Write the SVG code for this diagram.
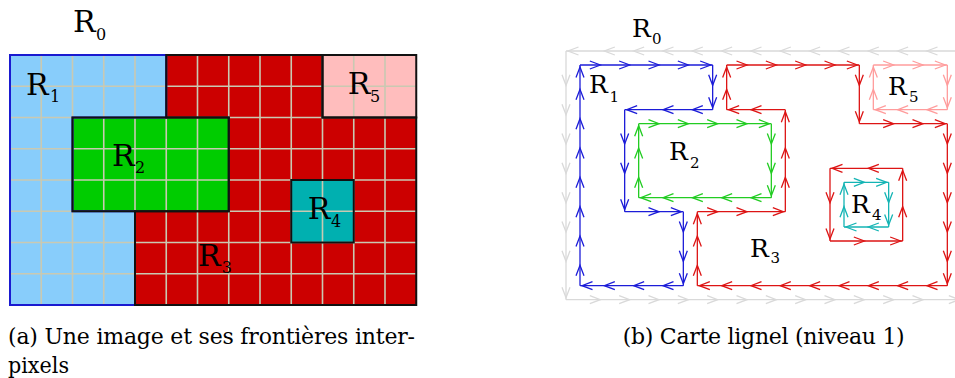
<svg xmlns="http://www.w3.org/2000/svg" width="955" height="378" viewBox="0 0 955 378">
<style>
text{font-family:"DejaVu Serif","Noto Serif","Liberation Serif",serif;fill:#000}
.lbl{font-size:30px}.sub{font-size:16px}
.lbr{font-size:25px}.sbr{font-size:15px}
.cap{font-size:22px}
.grid{stroke:#c9c9b2;stroke-width:1.6;fill:none}
.ol{fill:none;stroke:#111;stroke-width:2}
.d{fill:none;stroke-width:1.3}
.k{stroke:#d9d9d9;marker-mid:url(#mK);marker-end:url(#mK)}
.b{stroke:#1c1cd8;marker-mid:url(#mB);marker-end:url(#mB)}
.g{stroke:#22cc22;marker-mid:url(#mG);marker-end:url(#mG)}
.r{stroke:#dd1414;marker-mid:url(#mR);marker-end:url(#mR)}
.t{stroke:#14b4b4;marker-mid:url(#mT);marker-end:url(#mT)}
.p{stroke:#ff9c9c;marker-mid:url(#mP);marker-end:url(#mP)}
</style>
<defs>
<marker id="mK" markerUnits="userSpaceOnUse" viewBox="-12 -6 16 12" markerWidth="16" markerHeight="12" refX="2" refY="0" orient="auto" overflow="visible"><path d="M-10.5-4L0 0L-10.5 4" fill="none" stroke="#d9d9d9" stroke-width="1.3"/></marker>
<marker id="mB" markerUnits="userSpaceOnUse" viewBox="-12 -6 16 12" markerWidth="16" markerHeight="12" refX="2" refY="0" orient="auto" overflow="visible"><path d="M-10.5-4L0 0L-10.5 4" fill="none" stroke="#1c1cd8" stroke-width="1.3"/></marker>
<marker id="mG" markerUnits="userSpaceOnUse" viewBox="-12 -6 16 12" markerWidth="16" markerHeight="12" refX="2" refY="0" orient="auto" overflow="visible"><path d="M-10.5-4L0 0L-10.5 4" fill="none" stroke="#22cc22" stroke-width="1.3"/></marker>
<marker id="mR" markerUnits="userSpaceOnUse" viewBox="-12 -6 16 12" markerWidth="16" markerHeight="12" refX="2" refY="0" orient="auto" overflow="visible"><path d="M-10.5-4L0 0L-10.5 4" fill="none" stroke="#dd1414" stroke-width="1.3"/></marker>
<marker id="mT" markerUnits="userSpaceOnUse" viewBox="-12 -6 16 12" markerWidth="16" markerHeight="12" refX="2" refY="0" orient="auto" overflow="visible"><path d="M-10.5-4L0 0L-10.5 4" fill="none" stroke="#14b4b4" stroke-width="1.3"/></marker>
<marker id="mP" markerUnits="userSpaceOnUse" viewBox="-12 -6 16 12" markerWidth="16" markerHeight="12" refX="2" refY="0" orient="auto" overflow="visible"><path d="M-10.5-4L0 0L-10.5 4" fill="none" stroke="#ff9c9c" stroke-width="1.3"/></marker>
</defs>
<rect width="955" height="378" fill="#fff"/>

<!-- (a) image -->
<g id="image-a">
<g id="a-R3"><rect x="10" y="55" width="406.25" height="250" fill="#cc0000"/></g>
<g id="a-R1"><polygon points="10,55 166.25,55 166.25,117.5 72.5,117.5 72.5,211.25 135,211.25 135,305 10,305" fill="#88cdfb"/></g>
<g id="a-R2"><rect x="72.5" y="117.5" width="156.25" height="93.75" fill="#00cc00"/></g>
<g id="a-R4"><rect x="291.25" y="180" width="62.5" height="62.5" fill="#00b0b0"/></g>
<g id="a-R5"><rect x="322.5" y="55" width="93.75" height="62.5" fill="#ffbdbd"/></g>
<path class="grid" d="M41.25 55V305M72.5 55V305M103.75 55V305M135 55V305M166.25 55V305M197.5 55V305M228.75 55V305M260 55V305M291.25 55V305M322.5 55V305M353.75 55V305M385 55V305M10 86.25H416.25M10 117.5H416.25M10 148.75H416.25M10 180H416.25M10 211.25H416.25M10 242.5H416.25M10 273.75H416.25"/>
<polygon class="ol" style="stroke:#1a1ad0" points="10,55 166.25,55 166.25,117.5 72.5,117.5 72.5,211.25 135,211.25 135,305 10,305"/>
<polygon class="ol" points="166.25,55 322.5,55 322.5,117.5 416.25,117.5 416.25,305 135,305 135,211.25 228.75,211.25 228.75,117.5 166.25,117.5"/>
<rect class="ol" x="72.5" y="117.5" width="156.25" height="93.75"/>
<rect class="ol" x="291.25" y="180" width="62.5" height="62.5"/>
<rect class="ol" x="322.5" y="55" width="93.75" height="62.5"/>
<text class="lbl" x="73" y="32">R<tspan class="sub" x="96" y="39.5">0</tspan></text>
<text class="lbl" x="26" y="94.5">R<tspan class="sub" x="50" y="101.5">1</tspan></text>
<text class="lbl" x="112" y="166">R<tspan class="sub" x="135" y="172.7">2</tspan></text>
<text class="lbl" x="198" y="265.7">R<tspan class="sub" x="221.7" y="273.3">3</tspan></text>
<text class="lbl" x="307.7" y="219.3">R<tspan class="sub" x="331" y="226.7">4</tspan></text>
<text class="lbl" x="347.7" y="94.3">R<tspan class="sub" x="370" y="101.7">5</tspan></text>
</g>

<!-- (b) lignel map -->
<g id="connectors">
<g id="b-R0">
<path class="d k" d="M961.33 51H925H895.66H866.33H837H807.66H778.33H749H719.66H690.33H661H631.66H602.33H566"/>
<path class="d k" d="M566 51V87.33V116.66V146V175.33V204.66V234V263.33V299.66"/>
<path class="d k" d="M566 299.66H602.33H631.66H661H690.33H719.66H749H778.33H807.66H837H866.33H895.66H925H961.33"/>
</g>
<g id="b-R1">
<path class="d b" d="M580 65H602.33H631.66H661H690.33H712.66"/>
<path class="d b" d="M712.66 65V87.33V109.66"/>
<path class="d b" d="M712.66 109.66H690.33H661H624.66"/>
<path class="d b" d="M624.66 109.66V146V175.33V211.66"/>
<path class="d b" d="M624.66 211.66H661H683.33"/>
<path class="d b" d="M683.33 211.66V234V263.33V285.66"/>
<path class="d b" d="M683.33 285.66H661H631.66H602.33H580"/>
<path class="d b" d="M580 285.66V263.33V234V204.66V175.33V146V116.66V87.33V65"/>
</g>
<g id="b-R2">
<path class="d g" d="M638.66 123.66H661H690.33H719.66H749H771.33"/>
<path class="d g" d="M771.33 123.66V146V175.33V197.66"/>
<path class="d g" d="M771.33 197.66H749H719.66H690.33H661H638.66"/>
<path class="d g" d="M638.66 197.66V175.33V146V123.66"/>
</g>
<g id="b-R3">
<path class="d r" d="M726.66 65H749H778.33H807.66H837H859.33"/>
<path class="d r" d="M859.33 65V87.33V123.66"/>
<path class="d r" d="M859.33 123.66H895.66H925H947.33"/>
<path class="d r" d="M947.33 123.66V146V175.33V204.66V234V263.33V285.66"/>
<path class="d r" d="M947.33 285.66H925H895.66H866.33H837H807.66H778.33H749H719.66H697.33"/>
<path class="d r" d="M697.33 285.66V263.33V234V211.66"/>
<path class="d r" d="M697.33 211.66H719.66H749H785.33"/>
<path class="d r" d="M785.33 211.66V175.33V146V109.66"/>
<path class="d r" d="M785.33 109.66H749H726.66"/>
<path class="d r" d="M726.66 109.66V87.33V65"/>
<path class="d r" d="M902.66 168.33H866.33H830"/>
<path class="d r" d="M830 168.33V204.66V241"/>
<path class="d r" d="M830 241H866.33H902.66"/>
<path class="d r" d="M902.66 241V204.66V168.33"/>
</g>
<g id="b-R4">
<path class="d t" d="M844 182.33H866.33H888.66"/>
<path class="d t" d="M888.66 182.33V204.66V227"/>
<path class="d t" d="M888.66 227H866.33H844"/>
<path class="d t" d="M844 227V204.66V182.33"/>
</g>
<g id="b-R5">
<path class="d p" d="M873.33 65H895.66H925H947.33"/>
<path class="d p" d="M947.33 65V87.33V109.66"/>
<path class="d p" d="M947.33 109.66H925H895.66H873.33"/>
<path class="d p" d="M873.33 109.66V87.33V65"/>
</g>
</g>
<g id="labels-b">
<text class="lbr" x="632" y="36.7">R<tspan class="sbr" x="652" y="44">0</tspan></text>
<text class="lbr" x="589" y="93.3">R<tspan class="sbr" x="609.5" y="101.5">1</tspan></text>
<text class="lbr" x="669" y="160">R<tspan class="sbr" x="690" y="168">2</tspan></text>
<text class="lbr" x="750" y="256.7">R<tspan class="sbr" x="770.5" y="263.3">3</tspan></text>
<text class="lbr" x="851" y="212.7">R<tspan class="sbr" x="872" y="220">4</tspan></text>
<text class="lbr" x="888" y="95">R<tspan class="sbr" x="909" y="102.3">5</tspan></text>
</g>

<g id="captions">
<text class="cap" x="8" y="344" textLength="407" lengthAdjust="spacing">(a) Une image et ses frontières inter-</text>
<text class="cap" x="8" y="373" textLength="61" lengthAdjust="spacingAndGlyphs">pixels</text>
<text class="cap" x="622.7" y="344" textLength="282" lengthAdjust="spacing">(b) Carte lignel (niveau 1)</text>
</g>
</svg>
